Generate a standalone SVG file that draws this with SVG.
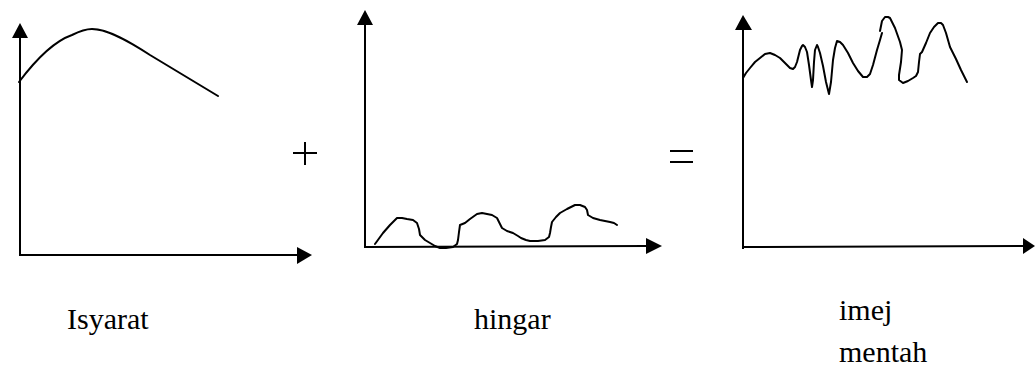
<svg xmlns="http://www.w3.org/2000/svg" width="1035" height="370" viewBox="0 0 1035 370">
<style>
.ax{stroke:#000;stroke-width:2;fill:none}
.cv{stroke:#000;stroke-width:2;fill:none;stroke-linejoin:round;stroke-linecap:round}
.hd{fill:#000}
.lb{font-family:"Liberation Serif","Times New Roman",serif;font-size:30px;fill:#000}
</style>
<rect width="1035" height="370" fill="#fff"/>
<g id="graph-isyarat">
<line class="ax" x1="20" y1="256" x2="20" y2="36"/>
<polygon class="hd" points="20,23 12,38 28,38"/>
<line class="ax" x1="19" y1="255" x2="298" y2="255"/>
<polygon class="hd" points="312,255 297,247 297,264"/>
<path class="cv" d="M19,82 C34,62 52,42 72,35 C80,31 86,29 92,29 C108,29 130,42 150,55 C175,70 198,84 218,96"/>
</g>
<g id="op-plus">
<line class="ax" x1="293" y1="153" x2="317" y2="153"/>
<line class="ax" x1="305" y1="142" x2="305" y2="165"/>
</g>
<g id="graph-hingar">
<line class="ax" x1="365" y1="248" x2="365" y2="24"/>
<polygon class="hd" points="365,10 357,25 373,25"/>
<line class="ax" x1="364" y1="247" x2="647" y2="246"/>
<polygon class="hd" points="662,246 646,238 646,254"/>
<polyline class="cv" points="375,244 383,233 390,225 397,218 402,218 407,219 413,220 417,223 419,229 420,235 425,240 430,243 435,246 440,248 446,248 453,247 457,244 458,240 459,232 460,225 465,223 470,219 477,214 482,213 487,214 492,215 497,218 499,222 502,228 507,231 513,233 518,236 521,238 526,240 530,241 538,241 545,240 549,237 550,233 551,227 552,222 556,217 560,213 567,209 575,205 580,205 585,207 587,210 588,215 593,218 600,220 605,221 610,222 614,223 617,225"/>
</g>
<g id="op-equals">
<line class="ax" x1="670" y1="151" x2="693" y2="151"/>
<line class="ax" x1="670" y1="162" x2="693" y2="162"/>
</g>
<g id="graph-imej">
<line class="ax" x1="743" y1="249" x2="743" y2="29"/>
<polygon class="hd" points="743,15 735,30 752,30"/>
<line class="ax" x1="742" y1="247" x2="1024" y2="246"/>
<polygon class="hd" points="1035,246 1023,238 1023,254"/>
<polyline class="cv" points="743,78 746,73 750,68 755,62 760,58 765,54 770,53 775,55 780,58 785,63 790,68 793,69 795,67 797,62 800,50 802,46 803,45 805,47 807,52 809,65 811,80 812,87 813,80 814,62 815,50 817,45 818,47 820,53 823,66 826,82 829,94 831,82 833,60 835,48 837,41 840,42 843,45 848,53 853,63 858,71 863,77 867,77 870,74 873,65 877,50 880,40 882,33"/>
<polyline class="cv" points="880,31 881,26 882,21 885,17 888,17 890,18 895,28 900,42 902,50 901,62 899,75 899,80 903,83 908,81 913,78 916,76 918,72 919,62 920,54 922,52 926,43 930,33 934,27 938,23 941,23 943,25 946,33 950,47 956,59 961,70 967,82"/>
</g>
<g id="labels">
<text class="lb" x="67" y="329">Isyarat</text>
<text class="lb" x="474" y="329">hingar</text>
<text class="lb" x="839" y="320">imej</text>
<text class="lb" x="839" y="362">mentah</text>
</g>
</svg>
